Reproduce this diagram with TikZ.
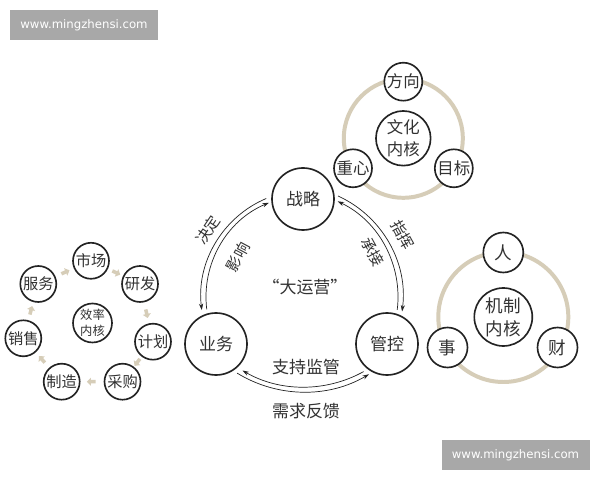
\documentclass[tikz,border=0pt]{standalone}
\usepackage{fontspec}
\newfontfamily\cjk{Noto Sans CJK SC}
\newfontfamily\wmfont{DejaVu Sans}
\usetikzlibrary{arrows.meta,shapes.arrows}
\definecolor{beige}{RGB}{214,205,184}
\definecolor{ink}{RGB}{35,35,35}
\definecolor{txt}{RGB}{50,50,50}
\definecolor{wmgray}{RGB}{168,168,168}
\begin{document}
\begin{tikzpicture}[x=0.03cm,y=0.03cm,
  circ/.style={circle, draw=ink, line width=1.4pt, fill=white, inner sep=0pt, text=txt, align=center},
  mainc/.style={circ, minimum size=1.86cm, font=\cjk\fontsize{14.5}{17}\selectfont},
  leftc/.style={circ, minimum size=1.08cm, font=\cjk\fontsize{13}{15}\selectfont},
  leftcore/.style={circ, minimum size=1.17cm, font=\cjk\fontsize{10.5}{13.3}\selectfont},
  satc/.style={circ, minimum size=1.14cm, font=\cjk\fontsize{14}{17}\selectfont},
  culcore/.style={circ, minimum size=1.64cm, font=\cjk\fontsize{14}{18.4}\selectfont},
  satb/.style={circ, minimum size=1.2cm, font=\cjk\fontsize{15}{18}\selectfont},
  mechcore/.style={circ, minimum size=1.74cm, font=\cjk\fontsize{15}{19.8}\selectfont},
  lbl/.style={text=txt, font=\cjk\fontsize{13}{15}\selectfont, inner sep=0pt},
  biglbl/.style={text=txt, font=\cjk\fontsize{14.5}{17}\selectfont, inner sep=0pt},
  flow/.style={draw=ink, line width=0.6pt, -{Stealth[length=5.5pt,width=3.6pt]}},
  ring/.style={draw=beige, line width=3.4pt},
  sarrow/.style={single arrow, fill=beige, draw=none, inner sep=1.3pt, single arrow head extend=2pt, minimum height=7.5pt, sloped, allow upside down},
  wm/.style={fill=wmgray, text=white, font=\wmfont\fontsize{10}{12}\selectfont, minimum width=4.44cm, minimum height=0.9cm, inner sep=0pt}
]
\useasboundingbox[fill=white] (0,0) rectangle (600,480);

% watermarks
\node[wm] (wm1) at (84,455) {www.mingzhensi.com};
\node[wm] (wm2) at (515.5,25) {www.mingzhensi.com};

% centres of the arcs
\coordinate (cl) at (308,183);
\coordinate (cr) at (292,183);
\coordinate (cb) at (304,216);

% main cycle
\node[mainc] (zl) at (303,281) {战略};
\node[mainc] (yw) at (216,136) {业务};
\node[mainc] (gk) at (387,136) {管控};
\node[biglbl] (dyy) at (305,193) {“大运营”};

\draw[flow] ([shift={(113:107)}]cl) arc[start angle=113, end angle=187, radius=107];
\draw[flow] ([shift={(187:102)}]cl) arc[start angle=187, end angle=112.5, radius=102];
\draw[flow] ([shift={(65.5:111)}]cr) arc[start angle=65.5, end angle=-7.5, radius=111];
\draw[flow] ([shift={(-7:106)}]cr) arc[start angle=-7, end angle=64.5, radius=106];
\draw[flow] ([shift={(299:123)}]cb) arc[start angle=299, end angle=240, radius=123];
\draw[flow] ([shift={(238.5:128)}]cb) arc[start angle=238.5, end angle=300.5, radius=128];

\node[lbl, rotate=56] (jd) at (208,250) {决定};
\node[lbl, rotate=62] (yx) at (238,223) {影响};
\node[lbl, rotate=-61] (zh) at (403,245) {指挥};
\node[lbl, rotate=-61] (cj) at (373,228) {承接};
\node[biglbl] (zcjg) at (306,113) {支持监管};
\node[biglbl] (xqfk) at (306,69) {需求反馈};

% left efficiency cycle
\node[leftc] (sc) at (91,219.2) {市场};
\node[leftc] (yf) at (140,196) {研发};
\node[leftc] (jh) at (153,138.3) {计划};
\node[leftc] (cg) at (122.5,98.3) {采购};
\node[leftc] (zz) at (61.7,98.3) {制造};
\node[leftc] (xs) at (23.3,141.7) {销售};
\node[leftc] (fw) at (38.3,196) {服务};
\node[leftcore] (xl) at (92.5,157) {效率\\内核};
\path (sc) -- node[sarrow] {} (yf);
\path (yf) -- node[sarrow] {} (jh);
\path (jh) -- node[sarrow] {} (cg);
\path (cg) -- node[sarrow] {} (zz);
\path (zz) -- node[sarrow] {} (xs);
\path (xs) -- node[sarrow] {} (fw);
\path (fw) -- node[sarrow] {} (sc);

% culture core
\coordinate (whc) at (403.3,341.7);
\draw[ring] (whc) circle[radius=59.5];
\node[culcore] (wh) at (whc) {文化\\内核};
\node[satc] (fx) at (403.3,398.3) {方向};
\node[satc] (zx) at (353,311.7) {重心};
\node[satc] (mb) at (453.8,311.7) {目标};

% mechanism core
\coordinate (jzc) at (503.3,163);
\draw[ring] (jzc) circle[radius=65];
\node[mechcore] (jz) at (jzc) {机制\\内核};
\node[satb] (ren) at (503.3,227.5) {人};
\node[satb] (shi) at (447.5,132.5) {事};
\node[satb] (cai) at (557.5,132.5) {财};
\end{tikzpicture}
\end{document}
